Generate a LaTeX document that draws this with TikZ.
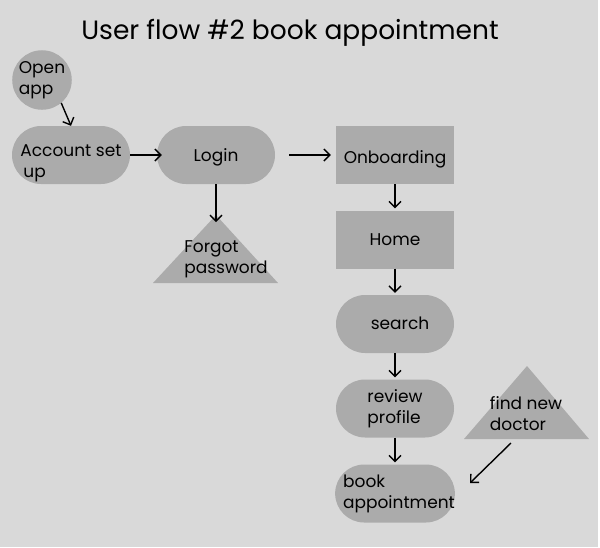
\documentclass[tikz,border=0pt]{standalone}
\usepackage{fontspec}
\setmainfont{Poppins}
\usetikzlibrary{arrows.meta}
\definecolor{pagegray}{HTML}{D9D9D9}
\definecolor{shapegray}{HTML}{ABABAB}
\newcommand{\nudge}[2]{\raisebox{-#1}[\height][\depth]{#2}}

\begin{document}
\begin{tikzpicture}[x=1pt,y=-1pt]
        \tikzset{
            style page/.style={fill=pagegray},
            style text/.style={font=\fontsize{17}{21}\selectfont,align=left,inner sep=0pt,text=black},
            style shape/.style={style text,fill=shapegray},
            style pill/.style={style shape,rounded corners=29pt,minimum width=118pt,minimum height=58pt},
            style box/.style={style shape,minimum width=118pt,minimum height=58pt},
            style blob/.style={style shape,circle,minimum size=59pt},
            style tri/.style={fill=shapegray},
            style arrow/.style={line width=1.4pt,-{Straight Barb[length=6pt,width=12pt]}}
        };
        \fill[style page] (0,0) rectangle (598,547);
        \useasboundingbox (0,0) rectangle (600,547);
        \node[font=\fontsize{26.5}{32}\selectfont,inner sep=0pt,anchor=base] (title) at (290,39) {User flow \#2 book appointment};
        % left part
        \node[style blob] (open) at (42,80) {Open\\app};
        \node[style pill] (account) at (71,155) {\nudge{8pt}{Account set}\\\nudge{8pt}{\hspace*{3pt}up}};
        \node[style pill] (login) at (216,155) {\nudge{2pt}{Login}};
        \fill[style tri] (153,283) -- (216,215) -- (278,283) -- cycle;
        \coordinate (forgot top) at (216,215);
        \node[style text] (forgot) at (226,259) {Forgot\\password};
        % middle column
        \node[style box] (onboarding) at (395,155) {\nudge{4pt}{Onboarding}};
        \node[style box] (home) at (395,239.5) {Home};
        \node[style pill] (search) at (395,324) {\hspace*{10pt}\nudge{-1pt}{search}};
        \node[style pill] (review) at (395,408.5) {review\\profile};
        \node[style pill] (book) at (395,493.5) {\hspace*{8pt}book\\\hspace*{8pt}appointment};
        % right
        \fill[style tri] (464,439) -- (527,366) -- (589,439) -- cycle;
        \node[style text] (doctor) at (526,414) {find new\\doctor};
        \coordinate (doctor foot) at (511,443);
        \coordinate (book hook) at (470,483);
        % arrows
        \draw[style arrow] (open.-50) -- (account.north);
        \draw[style arrow,shorten >=-5pt] (account) -- (login);
        \draw[style arrow,shorten >=-7pt] (login) -- (forgot top);
        \draw[style arrow,shorten <=14pt,shorten >=5pt] (login) -- (onboarding);
        \draw[style arrow,shorten >=2pt] (onboarding) -- (home);
        \draw[style arrow,shorten >=2pt] (home) -- (search);
        \draw[style arrow,shorten >=2pt] (search) -- (review);
        \draw[style arrow,shorten >=2pt] (review) -- (book);
        \draw[style arrow] (doctor foot) -- (book hook);
\end{tikzpicture}
\end{document}
